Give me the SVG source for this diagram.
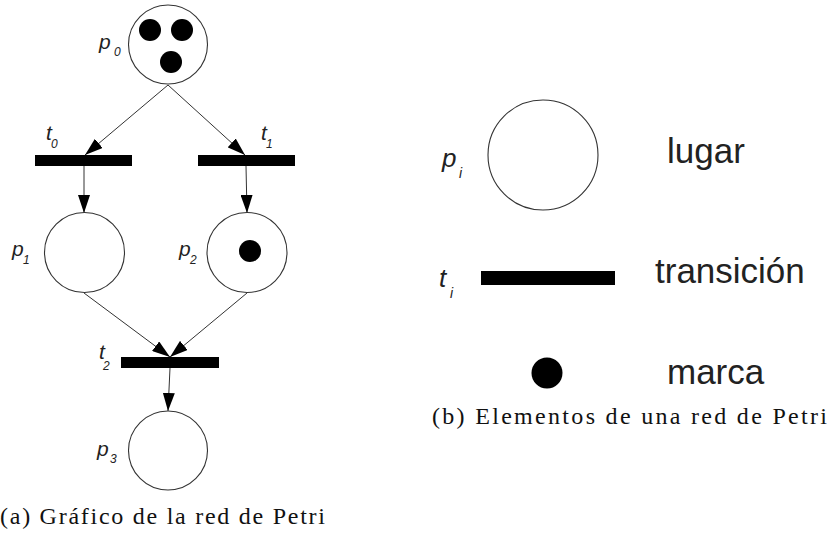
<svg xmlns="http://www.w3.org/2000/svg" width="831" height="535" viewBox="0 0 831 535">
<style>
.place{fill:#fff;stroke:#333;stroke-width:1.1}
.tok{fill:#000}
.bar{fill:#000}
.arc{stroke:#333;stroke-width:1;fill:none;marker-end:url(#ah)}
.lbl{font-family:"Liberation Sans",Arial,sans-serif;font-style:italic;fill:#222;font-size:21px}
.sub{font-family:"Liberation Sans",Arial,sans-serif;font-style:italic;fill:#222;font-size:12px}
.big{font-family:"Liberation Sans",Arial,sans-serif;fill:#222;font-size:35px}
.cap{font-family:"Liberation Serif","Times New Roman",serif;fill:#111;font-size:24px}
</style>
<defs>
<marker id="ah" viewBox="0 0 18 12" refX="18" refY="6" markerWidth="18" markerHeight="12" markerUnits="userSpaceOnUse" orient="auto">
<path d="M0,0 L18,6 L0,12 z" fill="#000"/>
</marker>
</defs>
<g id="connectors">
<line class="arc" x1="168" y1="85" x2="85" y2="155"/>
<line class="arc" x1="168" y1="85" x2="245" y2="155"/>
<line class="arc" x1="84" y1="166" x2="84" y2="213"/>
<line class="arc" x1="246" y1="166" x2="247" y2="213"/>
<line class="arc" x1="84" y1="293" x2="170" y2="357"/>
<line class="arc" x1="247" y1="293" x2="170" y2="357"/>
<line class="arc" x1="170" y1="368" x2="168" y2="411"/>
</g>
<g id="p0">
<circle class="place" cx="168" cy="44.5" r="39.5"/>
<circle class="tok" cx="150" cy="30" r="11"/>
<circle class="tok" cx="182" cy="30" r="11"/>
<circle class="tok" cx="171" cy="62" r="11"/>
<text class="lbl" x="99" y="49">p</text><text class="sub" x="114" y="56">0</text>
</g>
<g id="t0">
<rect class="bar" x="35" y="155" width="97" height="11"/>
<text class="lbl" x="46" y="140">t</text><text class="sub" x="51" y="148">0</text>
</g>
<g id="t1">
<rect class="bar" x="198" y="155" width="97" height="11"/>
<text class="lbl" x="261" y="140">t</text><text class="sub" x="266" y="148">1</text>
</g>
<g id="p1">
<circle class="place" cx="84.5" cy="252.5" r="40"/>
<text class="lbl" x="12" y="256">p</text><text class="sub" x="23" y="264">1</text>
</g>
<g id="p2">
<circle class="place" cx="247" cy="252.5" r="40"/>
<circle class="tok" cx="250" cy="251" r="11"/>
<text class="lbl" x="179" y="256">p</text><text class="sub" x="190" y="264">2</text>
</g>
<g id="t2">
<rect class="bar" x="121" y="357" width="98" height="11"/>
<text class="lbl" x="99" y="359">t</text><text class="sub" x="103" y="370">2</text>
</g>
<g id="p3">
<circle class="place" cx="168" cy="450.5" r="39.5"/>
<text class="lbl" x="97" y="456">p</text><text class="sub" x="110" y="463">3</text>
</g>
<text class="cap" x="0" y="524" textLength="325" lengthAdjust="spacing">(a) Gráfico de la red de Petri</text>
<g id="legend-place">
<circle class="place" cx="543" cy="155" r="55"/>
<text class="lbl" x="442" y="167" style="font-size:26px">p</text><text class="sub" x="459" y="178" style="font-size:14px">i</text>
<text class="big" x="667" y="163">lugar</text>
</g>
<g id="legend-transition">
<rect class="bar" x="481" y="271" width="134" height="14"/>
<text class="lbl" x="439" y="287" style="font-size:26px">t</text><text class="sub" x="450" y="298" style="font-size:14px">i</text>
<text class="big" x="655" y="283">transición</text>
</g>
<g id="legend-token">
<circle class="tok" cx="547" cy="373" r="15.5"/>
<text class="big" x="667" y="384">marca</text>
</g>
<text class="cap" x="432" y="424" textLength="395" lengthAdjust="spacing">(b) Elementos de una red de Petri</text>
</svg>
